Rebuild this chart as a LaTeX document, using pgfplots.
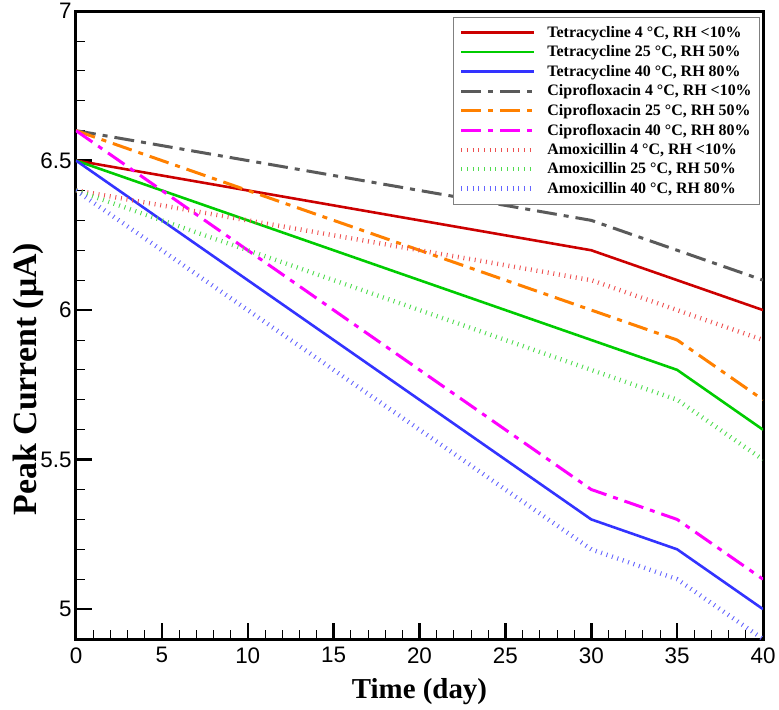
\documentclass[border=0pt]{standalone}
\usepackage{fontspec}
\setmainfont{Liberation Serif}
\newfontfamily\tickfont{Liberation Sans}
\usepackage{pgfplots}
\pgfplotsset{compat=1.18}
\definecolor{cRed}{RGB}{204,0,0}
\definecolor{cGreen}{RGB}{0,204,0}
\definecolor{cBlue}{RGB}{51,51,255}
\definecolor{cGray}{RGB}{90,90,90}
\definecolor{cOrange}{RGB}{255,128,0}
\definecolor{cMag}{RGB}{255,0,255}
\definecolor{lRed}{RGB}{238,80,80}
\definecolor{lGreen}{RGB}{80,220,80}
\definecolor{lBlue}{RGB}{100,100,255}
\begin{document}
\begin{tikzpicture}
\begin{axis}[
  scale only axis,
  width=687bp, height=628bp,
  xmin=0, xmax=40, ymin=4.9, ymax=7,
  xtick={0,5,...,40}, ytick={5,5.5,6,6.5,7},
  minor x tick num=4, minor y tick num=4,
  tick align=inside,
  xtick pos=bottom, ytick pos=left,
  major tick length=16bp, minor tick length=9bp,
  major tick style={line width=2.5bp, black},
  minor tick style={line width=0.8bp, black},
  axis line style={line width=3bp},
  /pgf/number format/assume math mode=true,
  ticklabel style={font=\tickfont\fontsize{22.5}{22.5}\selectfont},
  xticklabel style={yshift=-5bp},
  yticklabel style={xshift=-1bp},
  yticklabel={\pgfmathprintnumber[fixed,precision=1]{\tick}},
  xlabel={\textbf{Time (day)}},
  ylabel={\textbf{Peak Current (μA)}},
  xlabel style={font=\fontsize{29}{29}\selectfont, at={(rel axis cs:0.5,-0.094)}, anchor=base},
  ylabel style={font=\fontsize{34}{34}\selectfont, at={(rel axis cs:-0.0582,0.414)}, anchor=base},
  legend style={at={(rel axis cs:0.9956,0.9904)}, anchor=north east,
    draw=gray, line width=0.6bp, font=\bfseries\fontsize{16}{18}\selectfont,
    row sep=2.9bp, column sep=9bp, inner xsep=6bp, inner ysep=7bp, cells={anchor=west}},
  legend image code/.code={\draw[#1] (0bp,0bp) -- (73bp,0bp);},
  legend cell align=left,
]
\addplot[cRed, line width=2.6bp] coordinates {(0,6.5) (30,6.2) (35,6.1) (40,6.0)};
\addlegendentry{Tetracycline 4 °C, RH <10\%}
\addplot[cGreen, line width=2.6bp] coordinates {(0,6.5) (30,5.9) (35,5.8) (40,5.6)};
\addlegendentry{Tetracycline 25 °C, RH 50\%}
\addplot[cBlue, line width=2.6bp] coordinates {(0,6.5) (30,5.3) (35,5.2) (40,5.0)};
\addlegendentry{Tetracycline 40 °C, RH 80\%}
\addplot[cGray, line width=3bp, dash pattern=on 20bp off 7bp on 5bp off 7bp] coordinates {(0,6.6) (30,6.3) (35,6.2) (40,6.1)};
\addlegendentry{Ciprofloxacin 4 °C, RH <10\%}
\addplot[cOrange, line width=3bp, dash pattern=on 20bp off 7bp on 5bp off 7bp] coordinates {(0,6.6) (30,6.0) (35,5.9) (40,5.7)};
\addlegendentry{Ciprofloxacin 25 °C, RH 50\%}
\addplot[cMag, line width=3bp, dash pattern=on 20bp off 7bp on 5bp off 7bp] coordinates {(0,6.6) (30,5.4) (35,5.3) (40,5.1)};
\addlegendentry{Ciprofloxacin 40 °C, RH 80\%}
\addplot[lRed, line width=4.5bp, dash pattern=on 0.9bp off 4.8bp] coordinates {(0,6.4) (30,6.1) (35,6.0) (40,5.9)};
\addlegendentry{Amoxicillin 4 °C, RH <10\%}
\addplot[lGreen, line width=4.5bp, dash pattern=on 0.9bp off 4.8bp] coordinates {(0,6.4) (30,5.8) (35,5.7) (40,5.5)};
\addlegendentry{Amoxicillin 25 °C, RH 50\%}
\addplot[lBlue, line width=4.5bp, dash pattern=on 0.9bp off 4.8bp] coordinates {(0,6.4) (30,5.2) (35,5.1) (40,4.9)};
\addlegendentry{Amoxicillin 40 °C, RH 80\%}
\end{axis}
\path ([xshift=-76bp,yshift=-70bp]current axis.south west) rectangle ([xshift=16bp,yshift=11bp]current axis.north east);
\end{tikzpicture}
\end{document}
